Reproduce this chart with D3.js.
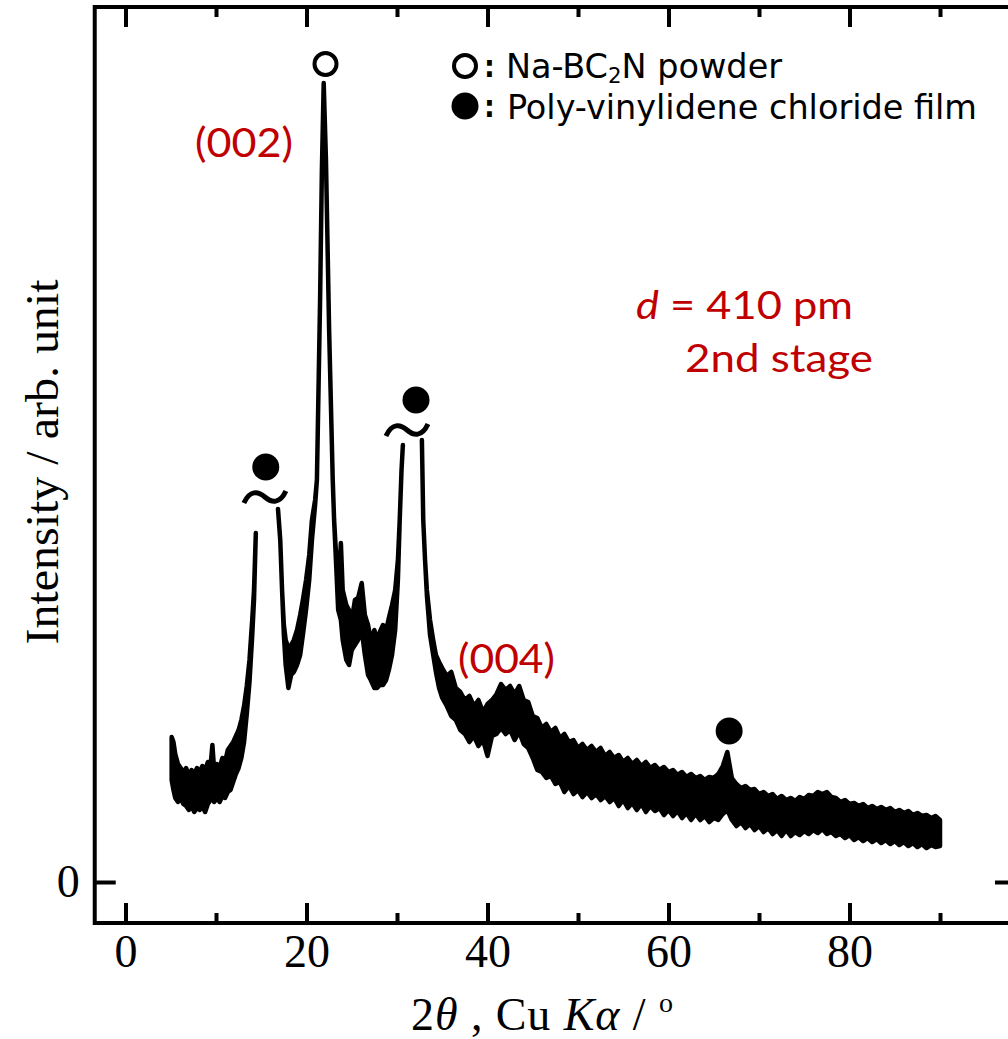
<!DOCTYPE html>
<html>
<head>
<meta charset="utf-8">
<script src="https://cdn.jsdelivr.net/npm/d3@7"></script>
<style>
  body { margin: 0; background: #fff; }
  svg { display: block; }
</style>
</head>
<body>
<svg id="xrd" width="1008" height="1039"></svg>
<script>
// XRD pattern, intensity in arb. units
// the pattern is broken at the two PVDC peaks (~15.5 and ~32 deg)
var seg1Theta = [5.1,5.3,5.5,5.8,6.1,6.4,6.7,7.0,7.3,7.6,7.9,8.2,8.5,8.8,9.1,9.4,9.6,9.8,10.1,10.4,
  10.7,11.0,11.3,11.6,11.9,12.2,12.5,12.8,13.1,13.4,13.7,14.0,14.2,14.4];
var seg1Hi = [145,140,128,118,114,110,114,106,112,108,114,110,116,112,120,116,137,112,118,114,
  124,120,132,136,140,146,152,162,176,196,222,262,292,349];
var seg1Lo = [102,92,84,80,84,78,76,72,76,70,74,72,76,70,78,82,86,80,84,80,
  86,84,90,92,100,108,114,124,140,168,200,246,282,349];

var seg2Theta = [16.85,17.1,17.3,17.5,17.7,18.0,18.3,18.6,18.95,19.3,
  19.6,19.95,20.3,20.6,20.95,21.15,21.5,21.7,21.9,22.15,
  22.5,22.9,23.05,23.3,23.5,23.8,24.0,24.4,24.7,25.0,
  25.35,25.7,26.1,26.45,26.8,27.1,27.5,27.8,28.1,28.45,
  28.8,29.1,29.45,29.8,30.1,30.3,30.5,30.65];
var seg2Hi = [373,342,292,257,242,234,237,242,252,267,
  282,302,327,362,382,402,582,712,799,722,
  552,402,362,322,292,339,292,277,272,262,
  282,284,299,267,257,242,252,242,250,257,
  252,264,277,292,322,362,412,437];
var seg2Lo = [373,342,292,247,217,194,207,210,217,227,
  247,272,302,342,377,402,582,712,799,722,
  552,402,362,312,272,262,242,222,217,232,
  237,242,252,227,207,202,194,194,197,197,
  202,212,227,252,302,362,412,437];

var seg3Theta = [32.75,32.9,33.1,33.3,33.65,34.0,34.3,34.65,
  35.0,35.5,36.0,36.5,37.0,37.5,38.0,38.5,39.0,39.5,
  40.0,40.5,41.0,41.5,42.0,42.5,43.0,43.5,44.0,44.5,
  45.0,45.5,46.0,46.5,47.0,47.5,48.0,48.5,49.0,49.5,
  50.0,50.5,51.0,51.5,52.0,52.5,53.0,53.5,54.0,54.5,
  55.0,55.5,56.0,56.5,57.0,57.5,58.0,58.5,59.0,59.5,
  60.0,60.5,61.0,61.5,62.0,62.5,63.0,63.5,64.0,64.5,
  65.0,65.5,66.0,66.5,67.0,67.5,68.0,68.5,69.0,69.5,
  70.0,70.5,71.0,71.5,72.0,72.5,73.0,73.5,74.0,74.5,
  75.0,75.5,76.0,76.5,77.0,77.5,78.0,78.5,79.0,79.5,
  80.0,80.5,81.0,81.5,82.0,82.5,83.0,83.5,84.0,84.5,
  85.0,85.5,86.0,86.5,87.0,87.5,88.0,88.5,89.0,89.5,90.0];
var seg3Hi = [442,362,322,292,262,242,227,220,
  214,206,210,194,190,182,186,176,182,170,
  178,182,188,198,192,196,188,196,182,180,
  166,164,154,158,150,154,144,148,140,142,
  134,138,132,136,130,134,126,130,124,127,
  120,124,118,122,116,120,114,117,112,115,
  110,112,107,110,105,108,104,106,102,105,
  104,108,116,130,104,98,94,96,92,93,
  88,90,86,88,83,86,82,84,81,85,
  83,87,86,90,88,90,85,84,80,82,
  78,79,76,78,74,76,73,75,72,74,
  70,72,69,71,67,69,66,67,64,66,62];
var seg3Lo = [442,362,322,287,247,227,210,194,
  184,176,166,162,152,148,140,146,136,142,
  126,146,148,154,148,152,142,150,138,134,
  124,112,110,104,106,98,100,90,96,88,
  92,85,90,84,88,82,86,80,84,76,
  82,74,79,72,78,70,76,71,74,67,
  72,66,71,64,69,62,68,62,66,60,
  64,62,68,72,62,56,60,54,58,52,
  56,50,54,48,52,46,52,46,50,47,
  51,48,52,49,53,48,50,46,48,44,
  47,42,45,41,44,40,43,39,42,38,
  41,37,40,36,39,35,38,34,37,35,36];

// peak markers
var bc2nMarkTheta = [22.1], bc2nMarkInt = [818];
var pvdcMarkTheta = [15.5, 32.1, 66.7], pvdcMarkInt = [415, 482, 151];
var breakTheta = [15.4, 31.1], breakInt = [385, 452];

var xMajor = [0, 20, 40, 60, 80];
var xMinor = [10, 30, 50, 70, 90];
var yTicks = [0];

var svg = d3.select("#xrd");
var serif = "'Liberation Serif','Times New Roman',serif";
var red = "#c00000";

var x = d3.scaleLinear().domain([0, 80]).range([125.5, 849.5]);
var y = d3.scaleLinear().domain([0, 875]).range([882, 7]);

var xLeft = x(-3.4), xRight = x(98.4), yTop = y(875), yBot = y(-41);

function toRows(t, hi, lo) {
  return t.map(function(d, i) { return {t: d, hi: hi[i], lo: lo[i]}; });
}
var segments = [toRows(seg1Theta, seg1Hi, seg1Lo), toRows(seg2Theta, seg2Hi, seg2Lo), toRows(seg3Theta, seg3Hi, seg3Lo)];

var band = d3.area()
  .x(function(d) { return x(d.t); })
  .y0(function(d) { return y(d.lo); })
  .y1(function(d) { return y(d.hi); });

svg.append("g").selectAll("path")
  .data(segments)
  .enter().append("path")
    .attr("d", band)
    .attr("fill", "#000")
    .attr("stroke", "#000")
    .attr("stroke-width", 4.5)
    .attr("stroke-linejoin", "round");

// frame
svg.append("path")
  .attr("d", "M" + xRight + "," + yTop + "H" + xLeft + "V" + yBot + "H" + xRight)
  .attr("fill", "none").attr("stroke", "#000").attr("stroke-width", 4);

function styleAxis(g) {
  g.select(".domain").remove();
  g.selectAll(".tick line").attr("stroke", "#000").attr("stroke-width", 4);
  g.selectAll("text").attr("font-family", serif).attr("font-size", 46).attr("fill", "#000");
}

svg.append("g").attr("transform", "translate(0," + yBot + ")")
  .call(d3.axisBottom(x).tickValues(xMajor).tickSizeInner(-20).tickSizeOuter(0).tickPadding(11).tickFormat(d3.format("d")))
  .call(styleAxis);
svg.append("g").attr("transform", "translate(0," + yBot + ")")
  .call(d3.axisBottom(x).tickValues(xMinor).tickSizeInner(-10).tickSizeOuter(0).tickFormat(""))
  .call(styleAxis);
svg.append("g").attr("transform", "translate(0," + yTop + ")")
  .call(d3.axisTop(x).tickValues(xMajor).tickSizeInner(-20).tickSizeOuter(0).tickFormat(""))
  .call(styleAxis);
svg.append("g").attr("transform", "translate(0," + yTop + ")")
  .call(d3.axisTop(x).tickValues(xMinor).tickSizeInner(-10).tickSizeOuter(0).tickFormat(""))
  .call(styleAxis);
svg.append("g").attr("transform", "translate(" + xLeft + ",0)")
  .call(d3.axisLeft(y).tickValues(yTicks).tickSizeInner(-21).tickSizeOuter(0).tickPadding(15).tickFormat(d3.format("d")))
  .call(styleAxis);
svg.append("g").attr("transform", "translate(" + xRight + ",0)")
  .call(d3.axisRight(y).tickValues(yTicks).tickSizeInner(-21).tickSizeOuter(0).tickFormat(""))
  .call(styleAxis);

// axis titles
var xt = svg.append("text")
  .attr("x", 411).attr("y", 1030)
  .attr("font-family", serif).attr("font-size", 46)
  .attr("textLength", 262).attr("lengthAdjust", "spacing");
xt.append("tspan").text("2");
xt.append("tspan").attr("font-style", "italic").text("\u03b8");
xt.append("tspan").text(" , Cu ");
xt.append("tspan").attr("font-style", "italic").text("K\u03b1");
xt.append("tspan").text(" / ");
xt.append("tspan").attr("font-size", 28).attr("dy", -18).text("o");

svg.append("text")
  .attr("transform", "translate(58,462) rotate(-90)")
  .attr("text-anchor", "middle")
  .attr("font-family", serif).attr("font-size", 46)
  .attr("textLength", 365).attr("lengthAdjust", "spacingAndGlyphs")
  .text("Intensity / arb. unit");

// peak markers
svg.append("g").selectAll("circle")
  .data(bc2nMarkTheta)
  .enter().append("circle")
    .attr("cx", function(d) { return x(d); })
    .attr("cy", function(d, i) { return y(bc2nMarkInt[i]); })
    .attr("r", 11).attr("fill", "#fff").attr("stroke", "#000").attr("stroke-width", 4);

svg.append("g").selectAll("circle")
  .data(pvdcMarkTheta)
  .enter().append("circle")
    .attr("cx", function(d) { return x(d); })
    .attr("cy", function(d, i) { return y(pvdcMarkInt[i]); })
    .attr("r", 13.5).attr("fill", "#000");

// break marks (~)
svg.append("g").selectAll("path")
  .data(breakTheta)
  .enter().append("path")
    .attr("transform", function(d, i) { return "translate(" + x(d) + "," + y(breakInt[i]) + ")"; })
    .attr("d", "M-21,6 C-15,-7 -7,-6 0,0 S15,7 21,-6")
    .attr("fill", "none").attr("stroke", "#000").attr("stroke-width", 5);

// legend
var sans = "'Liberation Sans Narrow','DejaVu Sans Condensed','DejaVu Sans',sans-serif";
var legend = svg.append("g");
legend.append("circle").attr("cx", 465).attr("cy", 66).attr("r", 11)
  .attr("fill", "#fff").attr("stroke", "#000").attr("stroke-width", 4);
legend.append("circle").attr("cx", 465).attr("cy", 106).attr("r", 13.5).attr("fill", "#000");
legend.selectAll("text.colon")
  .data([77, 117])
  .enter().append("text")
    .attr("class", "colon")
    .attr("x", 484).attr("y", function(d) { return d; })
    .attr("font-family", sans).attr("font-weight", "bold").attr("font-size", 30)
    .text(":");

var l1 = legend.append("text")
  .attr("x", 506).attr("y", 78)
  .attr("font-family", sans).attr("font-size", 33)
  .attr("textLength", 276).attr("lengthAdjust", "spacingAndGlyphs");
l1.append("tspan").text("Na-BC");
l1.append("tspan").attr("font-size", 21).attr("dy", 5).text("2");
l1.append("tspan").attr("dy", -5).text("N powder");

legend.append("text")
  .attr("x", 507).attr("y", 119)
  .attr("font-family", sans).attr("font-size", 33)
  .attr("textLength", 470).attr("lengthAdjust", "spacingAndGlyphs")
  .text("Poly-vinylidene chloride film");

// red annotations
var calib = "Lato,'Open Sans',sans-serif";
svg.append("text").attr("x", 195).attr("y", 157)
  .attr("font-family", calib).attr("font-size", 41).attr("fill", red)
  .attr("textLength", 98).attr("lengthAdjust", "spacingAndGlyphs")
  .text("(002)");
svg.append("text").attr("x", 458).attr("y", 673)
  .attr("font-family", calib).attr("font-size", 41).attr("fill", red)
  .attr("textLength", 97).attr("lengthAdjust", "spacingAndGlyphs")
  .text("(004)");

var dt = svg.append("text").attr("x", 636).attr("y", 319)
  .attr("font-family", calib).attr("font-size", 38).attr("fill", red)
  .attr("textLength", 217).attr("lengthAdjust", "spacingAndGlyphs");
dt.append("tspan").attr("font-style", "italic").text("d");
dt.append("tspan").text(" = 410 pm");

svg.append("text").attr("x", 685).attr("y", 372)
  .attr("font-family", calib).attr("font-size", 38).attr("fill", red)
  .attr("textLength", 188).attr("lengthAdjust", "spacingAndGlyphs")
  .text("2nd stage");
</script>
</body>
</html>
